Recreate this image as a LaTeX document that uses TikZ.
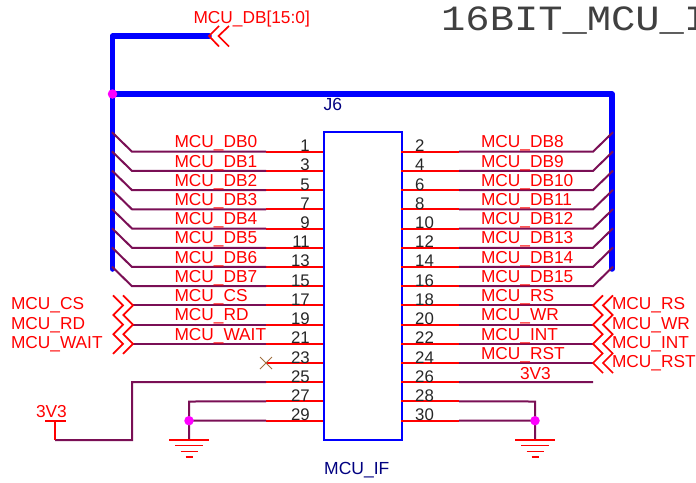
\documentclass[tikz,border=0pt]{standalone}
\usepackage{fontspec}
\usetikzlibrary{calc}
\setmainfont{Liberation Sans}
\newfontfamily\titlemono[FakeStretch=1.14]{Liberation Mono}
\definecolor{wirecol}{HTML}{7A0F55}
\definecolor{navycol}{HTML}{000080}
\definecolor{xcol}{HTML}{A07040}
\definecolor{dotcol}{HTML}{FF00FF}
\tikzset{
  netlabel/.style={anchor=base west,inner sep=0pt,outer sep=0pt,text=red,font=\fontsize{17.3}{18}\selectfont},
  pinnumL/.style={anchor=base east,inner sep=0pt,text=black!85,font=\fontsize{16.8}{17}\selectfont},
  pinnumR/.style={anchor=base west,inner sep=0pt,text=black!85,font=\fontsize{16.8}{17}\selectfont},
  partlabel/.style={anchor=base west,inner sep=0pt,text=navycol,font=\fontsize{17.5}{18}\selectfont},
  wire/.style={draw=wirecol,line width=2pt},
  pinline/.style={draw=red,line width=2pt},
  busline/.style={draw=blue,line width=5.5pt,line cap=round,line join=round},
  offpage/.style={draw=red,line width=1.7pt},
  junction/.style={circle,fill=dotcol,inner sep=0pt,minimum size=9.5pt},
  groundbar/.style={draw=red,line width=1.7pt},
}
\begin{document}
\begin{tikzpicture}[x=1pt,y=-1pt]
\useasboundingbox (0,0) rectangle (696,482);
% title and part labels
\node[anchor=base west,inner sep=0pt,font=\titlemono\fontsize{35.5}{36}\selectfont,text=black!75] (title) at (441,30) {16BIT\_MCU\_I};
\node[partlabel] (refdes) at (323.5,110) {J6};
\node[partlabel] (partval) at (324,474.5) {MCU\_IF};
% bus
\coordinate (busA) at (112.5,269);
\coordinate (busJ) at (112.5,94);
\coordinate (busB) at (112.5,36);
\coordinate (busC) at (209,36);
\coordinate (busD) at (612,94);
\coordinate (busE) at (612,269);
\draw[busline] (busA) -- (busB) -- (busC);
\draw[busline] (busJ) -- (busD) -- (busE);
% connector body
\node[draw=blue,line width=2pt,fill=white,minimum width=78pt,minimum height=308pt,inner sep=0pt,outer sep=0pt,anchor=north west] (J) at (323.5,132) {};
% pin rows
\foreach \r [evaluate=\r as \yy using 151.7+19.21*(\r-1)] in {1,...,15}{
  \pgfmathtruncatemacro{\nl}{2*\r-1}
  \pgfmathtruncatemacro{\nr}{2*\r}
  \coordinate (La\r) at (323,\yy);
  \coordinate (Lb\r) at (266,\yy);
  \coordinate (Ra\r) at (401,\yy);
  \coordinate (Rb\r) at (459,\yy);
  \draw[pinline] (La\r) -- (Lb\r);
  \draw[pinline] (Ra\r) -- (Rb\r);
  \node[pinnumL] (numL\r) at (310,\yy) {\nl};
  \node[pinnumR] (numR\r) at (415,\yy) {\nr};
}
% bus-entry rows
\foreach \r/\lt/\rt [evaluate=\r as \yy using 151.7+19.21*(\r-1)] in {1/MCU\_DB0/MCU\_DB8,2/MCU\_DB1/MCU\_DB9,3/MCU\_DB2/MCU\_DB10,4/MCU\_DB3/MCU\_DB11,5/MCU\_DB4/MCU\_DB12,6/MCU\_DB5/MCU\_DB13,7/MCU\_DB6/MCU\_DB14,8/MCU\_DB7/MCU\_DB15}{
  \draw[wire] (112,\yy-19.5) -- (132,\yy) -- (Lb\r);
  \draw[wire] (613,\yy-19.5) -- (593,\yy) -- (Rb\r);
  \node[netlabel] (nL\r) at (174.5,\yy-3.8) {\lt};
  \node[netlabel] (nR\r) at (481,\yy-3.8) {\rt};
}
% left off-page signals
\foreach \r/\lt [evaluate=\r as \yy using 151.7+19.21*(\r-1)] in {9/MCU\_CS,10/MCU\_RD,11/MCU\_WAIT}{
  \draw[wire] (132,\yy) -- (Lb\r);
  \draw[offpage] (123,\yy-10) -- (133,\yy) -- (123,\yy+10);
  \draw[offpage] (113,\yy-10) -- (123,\yy) -- (113,\yy+10);
  \node[netlabel] (nL\r) at (174.5,\yy-3.8) {\lt};
  \node[netlabel] (oL\r) at (11,\yy+4.6) {\lt};
}
% right off-page signals
\foreach \r/\lt [evaluate=\r as \yy using 151.7+19.21*(\r-1)] in {9/MCU\_RS,10/MCU\_WR,11/MCU\_INT,12/MCU\_RST}{
  \draw[wire] (593,\yy) -- (Rb\r);
  \draw[offpage] (603,\yy-10) -- (593,\yy) -- (603,\yy+10);
  \draw[offpage] (613,\yy-10) -- (603,\yy) -- (613,\yy+10);
  \node[netlabel] (nR\r) at (481,\yy-3.8) {\lt};
  \node[netlabel] (oR\r) at (612,\yy+4.6) {\lt};
}
% bus off-page connector
\node[netlabel] (busname) at (193.5,23.5) {MCU\_DB[15:0]};
\draw[offpage] (219,26) -- (209,36) -- (219,46.5);
\draw[offpage] (229,26) -- (218.5,36) -- (229,46.5);
\node[junction] (jbus) at (busJ) {};
% no-connect
\coordinate (nc) at (Lb12);
\draw[draw=xcol,line width=0.9pt] ($(nc)+(-6,-6)$) -- ($(nc)+(6,6)$) ($(nc)+(-6,6)$) -- ($(nc)+(6,-6)$);
% 3V3 left
\coordinate (pw) at (55,440);
\coordinate (pwbar) at (55,420.7);
\coordinate (pwc) at (132,440);
\coordinate (pwd) at (132,382.2);
\draw[wire] (Lb13) -- (pwd) -- (pwc) -- (pw);
\draw[pinline] (pw) -- (pwbar);
\draw[pinline] (45,420.7) -- (66,420.7);
\node[netlabel] (pwlabel) at (36,417) {3V3};
% 3V3 right
\coordinate (rr) at (593,382.2);
\draw[wire] (Rb13) -- (rr);
\node[netlabel] (pwlabelR) at (520,379) {3V3};
% grounds
\foreach \gx/\sd/\ra/\rb in {189/L/Lb14/Lb15,535/R/Rb14/Rb15}{
  \coordinate (top\sd) at (\gx,401.5);
  \coordinate (mid\sd) at (\gx,420.7);
  \coordinate (gnd\sd) at (\gx,440);
  \draw[wire] (\ra) -- (top\sd) -- (gnd\sd);
  \draw[wire] (\rb) -- (mid\sd);
  \node[junction] (j\sd) at (mid\sd) {};
  \draw[groundbar] (\gx-20,440) -- (\gx+20,440);
  \draw[groundbar] (\gx-14,445.5) -- (\gx+14,445.5);
  \draw[groundbar] (\gx-8.5,451.5) -- (\gx+8.5,451.5);
  \draw[groundbar] (\gx-3.5,457) -- (\gx+3.5,457);
}
\end{tikzpicture}
\end{document}
